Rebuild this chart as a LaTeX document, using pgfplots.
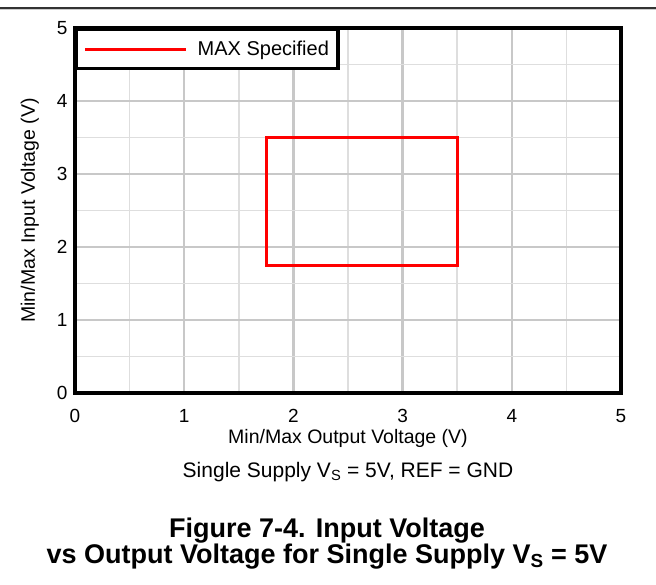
\documentclass[border=0pt]{standalone}
\usepackage{fontspec}
\setmainfont{Liberation Sans}
\usepackage{pgfplots}
\pgfplotsset{compat=1.18}
\definecolor{majgrid}{HTML}{C8C8C8}
\definecolor{mingrid}{HTML}{DEDEDE}
\definecolor{topline}{HTML}{333333}
\begin{document}
\begin{tikzpicture}
\path[use as bounding box] (-75pt,-191pt) rectangle (581pt,393pt);
\draw[topline, line width=2pt] (-75pt,385pt) -- (581pt,385pt);
\draw[gray!40, line width=1pt] (-75pt,383pt) -- (581pt,383pt);
\begin{axis}[
  at={(0pt,0pt)}, anchor=south west,
  scale only axis, width=546pt, height=365pt,
  xmin=0, xmax=5, ymin=0, ymax=5,
  xtick={0,1,2,3,4,5}, ytick={0,1,2,3,4,5},
  minor tick num=1,
  grid=both,
  major grid style={line width=2.5pt, majgrid},
  minor grid style={line width=1.5pt, mingrid},
  axis line style={line width=4pt, black},
  major tick length=0pt, minor tick length=0pt,
  /pgf/number format/assume math mode=true,
  tick label style={font=\fontsize{19}{20}\selectfont},
  xticklabel style={anchor=base, yshift=-29pt},
  yticklabel style={anchor=east, xshift=-4pt},
  label style={font=\fontsize{19.5}{21}\selectfont},
  xlabel={Min/Max Output Voltage (V)},
  ylabel={Min/Max Input Voltage (V)},
  xlabel style={at={(axis description cs:0.5,-0.137)}, anchor=base},
  ylabel style={at={(axis description cs:-0.0733,0.5)}, anchor=base, rotate=0},
  legend style={at={(0,1)}, anchor=north west, draw=black, line width=3.5pt,
    font=\fontsize{20}{22}\selectfont, inner xsep=7pt, inner ysep=9.5pt,
    legend cell align=left,
    /tikz/every odd column/.append style={column sep=8pt}},
  legend image code/.code={\draw[#1] (0pt,0pt) -- (101pt,0pt);},
]
\addplot[red, line width=3pt, sharp corners] coordinates {
  (1.75,1.75) (3.5,1.75) (3.5,3.5) (1.75,3.5) (1.75,1.75)
} -- cycle;
\addlegendentry{MAX Specified}
\end{axis}
\node[anchor=base, font=\fontsize{21}{23}\selectfont] at (273pt,-84pt) {Single Supply V\textsubscript{S} = 5V, REF = GND};
\node[anchor=base, font=\fontsize{27}{28}\selectfont\bfseries] at (252pt,-144pt) {Figure 7-4. Input Voltage};
\node[anchor=base, font=\fontsize{27}{28}\selectfont\bfseries] at (252pt,-170pt) {vs Output Voltage for Single Supply V\textsubscript{S} = 5V};
\end{tikzpicture}
\end{document}
